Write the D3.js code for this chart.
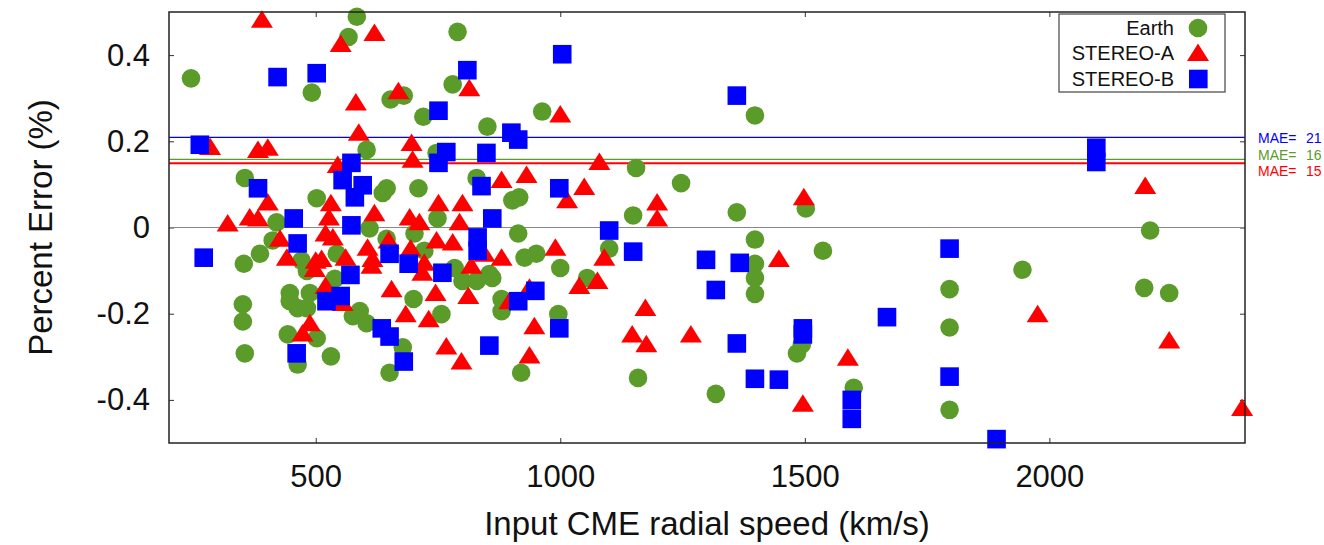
<!DOCTYPE html>
<html>
<head>
<meta charset="utf-8">
<script src="https://cdn.jsdelivr.net/npm/d3@7/dist/d3.min.js"></script>
<style>
  body { margin: 0; background: #fff; }
  svg { font-family: "Liberation Sans", Arial, sans-serif; }
</style>
</head>
<body>
<div id="scatter"></div>
<script>
// Data: [input speed (km/s), percent error]
var earthPts = [
  [245, 0.346], [584, 0.489], [567, 0.442], [492, 0.313], [653, 0.297], [680, 0.306],
  [720, 0.257], [780, 0.332], [790, 0.454], [851, 0.234], [963, 0.269], [604, 0.180],
  [747, 0.173], [355, 0.115], [502, 0.068], [645, 0.091], [637, 0.080], [710, 0.091],
  [829, 0.115], [902, 0.063], [916, 0.070], [420, 0.012], [749, 0.021], [645, -0.026],
  [702, -0.014], [914, -0.014], [353, -0.084], [386, -0.061], [412, -0.030], [471, -0.077],
  [482, -0.101], [447, -0.152], [447, -0.171], [463, -0.187], [488, -0.152], [482, -0.187],
  [351, -0.178], [351, -0.218], [443, -0.248], [502, -0.257], [355, -0.292], [463, -0.318],
  [531, -0.299], [576, -0.206], [604, -0.222], [590, -0.194], [678, -0.278], [651, -0.337],
  [700, -0.166], [757, -0.201], [722, -0.054], [784, -0.094], [800, -0.124], [829, -0.124],
  [855, -0.108], [861, -0.117], [927, -0.070], [880, -0.166], [880, -0.194], [951, -0.061],
  [1000, -0.094], [1055, -0.117], [996, -0.201], [920, -0.337], [1155, 0.138], [1247, 0.103],
  [1149, 0.028], [1100, -0.049], [1159, -0.349], [1318, -0.386], [1398, 0.260], [1361, 0.035],
  [1502, 0.044], [1398, -0.028], [1398, -0.084], [1398, -0.117], [1398, -0.154], [1537, -0.054],
  [1484, -0.292], [1494, -0.271], [1600, -0.372], [1796, -0.143], [1796, -0.232], [1796, -0.423],
  [1945, -0.098], [2206, -0.007], [2194, -0.140], [2245, -0.152], [543, -0.061], [610, -0.002],
  [539, -0.119]
];

var staPts = [
  [390, 0.482], [551, 0.426], [620, 0.451], [669, 0.316], [582, 0.290], [814, 0.323],
  [1000, 0.262], [284, 0.187], [382, 0.180], [402, 0.185], [588, 0.220], [696, 0.196],
  [698, 0.157], [545, 0.145], [402, 0.058], [531, 0.056], [751, 0.056], [320, 0.009],
  [365, 0.023], [382, 0.021], [620, 0.033], [527, 0.023], [692, 0.023], [712, 0.012],
  [880, 0.110], [931, 0.122], [800, 0.056], [794, 0.012], [427, -0.026], [441, -0.070],
  [500, -0.077], [512, -0.073], [498, -0.096], [520, -0.014], [561, -0.070], [520, -0.136],
  [555, -0.175], [488, -0.222], [473, -0.246], [684, -0.201], [731, -0.213], [745, -0.152],
  [767, -0.276], [655, -0.143], [606, -0.047], [614, -0.089], [649, -0.030], [694, -0.049],
  [722, -0.082], [718, -0.105], [747, -0.030], [780, -0.035], [818, -0.089], [845, -0.061],
  [880, -0.070], [812, -0.159], [896, -0.171], [1080, 0.152], [1049, 0.094], [1014, 0.063],
  [1198, 0.058], [1198, 0.021], [1090, -0.070], [990, -0.047], [1039, -0.136], [1076, -0.124],
  [1174, -0.187], [947, -0.229], [1147, -0.248], [1267, -0.248], [1176, -0.271], [798, -0.311],
  [937, -0.297], [937, -0.140], [1447, -0.073], [1498, 0.070], [1496, -0.409], [1588, -0.302],
  [2196, 0.096], [1976, -0.201], [2245, -0.262], [2394, -0.419], [535, -0.023], [616, -0.073]
];

var stbPts = [
  [263, 0.192], [422, 0.349], [502, 0.358], [751, 0.271], [810, 0.365], [1004, 0.402],
  [1361, 0.306], [573, 0.150], [751, 0.150], [767, 0.175], [555, 0.110], [596, 0.098],
  [580, 0.070], [382, 0.091], [455, 0.021], [573, 0.005], [271, -0.070], [463, -0.037],
  [571, -0.110], [522, -0.171], [551, -0.159], [461, -0.292], [635, -0.234], [651, -0.253],
  [680, -0.311], [651, -0.061], [690, -0.084], [759, -0.105], [900, 0.220], [914, 0.204],
  [849, 0.173], [839, 0.096], [998, 0.091], [861, 0.021], [1100, -0.007], [831, -0.023],
  [831, -0.054], [914, -0.171], [949, -0.147], [998, -0.234], [855, -0.274], [1149, -0.056],
  [1298, -0.075], [1318, -0.145], [1361, -0.269], [1367, -0.082], [1398, -0.351], [1447, -0.353],
  [1496, -0.234], [1496, -0.248], [1596, -0.400], [1596, -0.444], [1668, -0.208], [1796, -0.049],
  [1796, -0.346], [1892, -0.491], [2096, 0.185], [2096, 0.152]
];

var seriesNames = ["Earth", "STEREO-A", "STEREO-B"];
var seriesColors = ["#5b9b2a", "#ff0000", "#0000ff"];

// mean absolute error lines (fraction) and their labels
var maeValues = [0.209, 0.158, 0.149];
var maeLabels = ["21", "16", "15"];
var maeColors = ["#0000ff", "#5b9b2a", "#ff0000"];

var xTicks = [500, 1000, 1500, 2000];
var yTicks = [0.4, 0.2, 0, -0.2, -0.4];
var yTickLabels = ["0.4", "0.2", "0", "-0.2", "-0.4"];

// Set up chart
var svgWidth = 1324;
var svgHeight = 545;

var margin = { top: 12, right: 79, bottom: 102, left: 169 };
var width = svgWidth - margin.left - margin.right;
var height = svgHeight - margin.top - margin.bottom;

var svg = d3.select("#scatter")
  .append("svg")
  .attr("width", svgWidth)
  .attr("height", svgHeight);

var chartGroup = svg.append("g")
  .attr("transform", `translate(${margin.left}, ${margin.top})`);

var xScale = d3.scaleLinear().domain([200, 2400]).range([0, width]);
var yScale = d3.scaleLinear().domain([-0.5, 0.5]).range([height, 0]);

// axes, ticks pointing inward on all four sides
var bottomAxis = d3.axisBottom(xScale).tickValues(xTicks).tickSize(-5).tickPadding(22)
  .tickFormat(d3.format("d"));
var topAxis = d3.axisTop(xScale).tickValues(xTicks).tickSize(-5).tickFormat("");
var leftAxis = d3.axisLeft(yScale).tickValues(yTicks).tickSize(-5).tickPadding(19)
  .tickFormat((d, i) => yTickLabels[i]);
var rightAxis = d3.axisRight(yScale).tickValues(yTicks).tickSize(-5).tickFormat("");

var gx = chartGroup.append("g").attr("transform", `translate(0, ${height})`).call(bottomAxis);
var gt = chartGroup.append("g").call(topAxis);
var gy = chartGroup.append("g").call(leftAxis);
var gr = chartGroup.append("g").attr("transform", `translate(${width}, 0)`).call(rightAxis);

[gx, gt, gy, gr].forEach(function(g) {
  g.select(".domain").remove();
  g.selectAll(".tick line").attr("stroke", "#333").attr("stroke-width", 1);
  g.selectAll("text")
    .attr("font-size", 31)
    .attr("font-family", "Liberation Sans, Arial, sans-serif")
    .attr("fill", "#111");
});

// zero line
chartGroup.append("line")
  .attr("x1", 0).attr("x2", width)
  .attr("y1", yScale(0)).attr("y2", yScale(0))
  .attr("stroke", "#888").attr("stroke-width", 1);

// MAE lines
chartGroup.selectAll(".mae")
  .data(maeValues)
  .enter()
  .append("line")
  .attr("class", "mae")
  .attr("x1", 0).attr("x2", width)
  .attr("y1", d => yScale(d)).attr("y2", d => yScale(d))
  .attr("stroke", (d, i) => maeColors[i])
  .attr("stroke-width", (d, i) => i == 2 ? 2 : 1.4);

// MAE labels sit right of the frame, spread apart a little
var maeLabelY = [138, 155, 171];
var maeText = chartGroup.selectAll(".maeText")
  .data(maeValues)
  .enter()
  .append("g")
  .attr("transform", (d, i) => `translate(${width + 13}, ${maeLabelY[i] - margin.top})`);
maeText.append("text")
  .attr("font-size", 14)
  .attr("fill", (d, i) => maeColors[i])
  .attr("dy", "0.35em")
  .text("MAE=");
maeText.append("text")
  .attr("x", 48)
  .attr("font-size", 14)
  .attr("fill", (d, i) => maeColors[i])
  .attr("dy", "0.35em")
  .text((d, i) => maeLabels[i]);

// marker shapes
var triPath = "M0,-9.5L11,8L-11,8Z";

chartGroup.append("g").selectAll("circle")
  .data(earthPts)
  .enter()
  .append("circle")
  .attr("cx", d => xScale(d[0]))
  .attr("cy", d => yScale(d[1]))
  .attr("r", 9.3)
  .attr("fill", seriesColors[0]);

chartGroup.append("g").selectAll("path")
  .data(staPts)
  .enter()
  .append("path")
  .attr("d", triPath)
  .attr("transform", d => `translate(${xScale(d[0])}, ${yScale(d[1])})`)
  .attr("fill", seriesColors[1]);

chartGroup.append("g").selectAll("rect")
  .data(stbPts)
  .enter()
  .append("rect")
  .attr("x", d => xScale(d[0]) - 9.3)
  .attr("y", d => yScale(d[1]) - 9.3)
  .attr("width", 18.6)
  .attr("height", 18.6)
  .attr("fill", seriesColors[2]);

// frame
chartGroup.append("rect")
  .attr("width", width)
  .attr("height", height)
  .attr("fill", "none")
  .attr("stroke", "#222")
  .attr("stroke-width", 1.5);

// legend
var legend = chartGroup.append("g")
  .attr("transform", `translate(${1059 - margin.left}, ${14 - margin.top})`);

legend.append("rect")
  .attr("width", 166)
  .attr("height", 78)
  .attr("fill", "#fff")
  .attr("stroke", "#444")
  .attr("stroke-width", 1.2);

var legendRows = legend.selectAll(".row")
  .data(seriesNames)
  .enter()
  .append("g")
  .attr("transform", (d, i) => `translate(0, ${[14, 39, 65][i]})`);

legendRows.append("text")
  .attr("x", 115)
  .attr("dy", "0.35em")
  .attr("text-anchor", "end")
  .attr("font-size", 20)
  .attr("fill", "#111")
  .text(d => d);

legendRows.filter((d, i) => i == 0).append("circle")
  .attr("cx", 139).attr("r", 9.3).attr("fill", seriesColors[0]);
legendRows.filter((d, i) => i == 1).append("path")
  .attr("d", triPath).attr("transform", "translate(139, 0)").attr("fill", seriesColors[1]);
legendRows.filter((d, i) => i == 2).append("rect")
  .attr("x", 130).attr("y", -9.3).attr("width", 18.6).attr("height", 18.6)
  .attr("fill", seriesColors[2]);

// axis labels
chartGroup.append("text")
  .attr("transform", "rotate(-90)")
  .attr("x", 0 - (yScale(0)))
  .attr("y", 52 - margin.left)
  .attr("text-anchor", "middle")
  .attr("font-size", 33)
  .attr("fill", "#111")
  .text("Percent Error (%)");

chartGroup.append("text")
  .attr("x", 707 - margin.left)
  .attr("y", 535 - margin.top)
  .attr("text-anchor", "middle")
  .attr("font-size", 33)
  .attr("fill", "#111")
  .text("Input CME radial speed (km/s)");
</script>
</body>
</html>
